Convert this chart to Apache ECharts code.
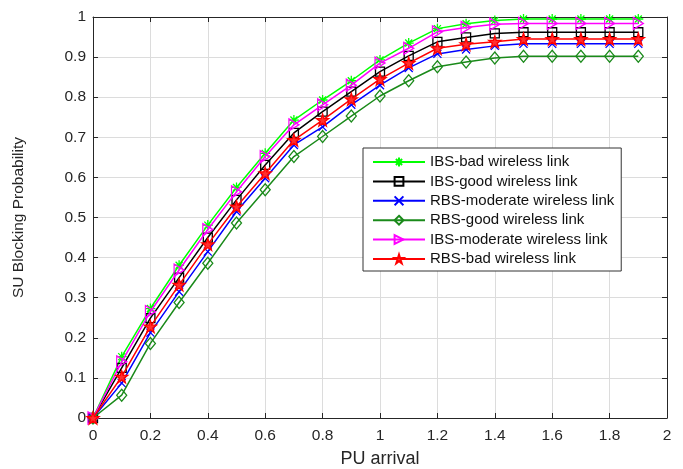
<!DOCTYPE html>
<html>
<head>
<meta charset="utf-8">
<script src="https://cdn.jsdelivr.net/npm/echarts@6/dist/echarts.min.js"></script>
<style>
  html, body { margin: 0; padding: 0; background: #fff; }
  #chart { width: 683px; height: 469px; }
</style>
</head>
<body>
<div id="chart"></div>
<script>
// PU arrival rate samples
const puArrival = [0, 0.1, 0.2, 0.3, 0.4, 0.5, 0.6, 0.7, 0.8, 0.9, 1.0, 1.1, 1.2, 1.3, 1.4, 1.5, 1.6, 1.7, 1.8, 1.9];

// SU blocking probability per scheme
const ibsBad      = [0, 0.153, 0.273, 0.381, 0.481, 0.575, 0.660, 0.743, 0.793, 0.841, 0.893, 0.935, 0.971, 0.983, 0.991, 0.995, 0.995, 0.995, 0.995, 0.995];
const ibsGood     = [0, 0.125, 0.249, 0.350, 0.450, 0.544, 0.631, 0.711, 0.764, 0.814, 0.864, 0.903, 0.938, 0.949, 0.959, 0.962, 0.962, 0.962, 0.962, 0.962];
const rbsModerate = [0, 0.087, 0.213, 0.315, 0.415, 0.515, 0.598, 0.681, 0.726, 0.781, 0.830, 0.873, 0.908, 0.919, 0.928, 0.933, 0.933, 0.933, 0.933, 0.933];
const rbsGood     = [0, 0.057, 0.186, 0.288, 0.386, 0.486, 0.569, 0.652, 0.702, 0.753, 0.803, 0.841, 0.876, 0.888, 0.898, 0.902, 0.902, 0.902, 0.902, 0.902];
const ibsModerate = [0, 0.140, 0.265, 0.369, 0.470, 0.564, 0.652, 0.731, 0.781, 0.830, 0.885, 0.922, 0.963, 0.974, 0.982, 0.984, 0.984, 0.984, 0.984, 0.984];
const rbsBad      = [0, 0.103, 0.228, 0.332, 0.433, 0.527, 0.610, 0.693, 0.743, 0.795, 0.845, 0.885, 0.922, 0.932, 0.938, 0.945, 0.945, 0.945, 0.945, 0.945];

const xTicks = [0, 0.2, 0.4, 0.6, 0.8, 1, 1.2, 1.4, 1.6, 1.8, 2];
const yTicks = [0, 0.1, 0.2, 0.3, 0.4, 0.5, 0.6, 0.7, 0.8, 0.9, 1];

const seriesNames = [
  'IBS-bad wireless link',
  'IBS-good wireless link',
  'RBS-moderate wireless link',
  'RBS-good wireless link',
  'IBS-moderate wireless link',
  'RBS-bad wireless link'
];
const seriesValues = [ibsBad, ibsGood, rbsModerate, rbsGood, ibsModerate, rbsBad];

// marker glyphs
const asterisk = 'path://M5,0 L5,10 M0,5 L10,5 M1.5,1.5 L8.5,8.5 M8.5,1.5 L1.5,8.5';
const cross = 'path://M0,0 L10,10 M10,0 L0,10';
const rightTri = 'path://M0,0 L10,5 L0,10 Z';
const star = 'path://M50,0 L61.8,35.4 L99,35.4 L69.1,57.3 L80.4,92.7 L50,70.8 L19.6,92.7 L30.9,57.3 L1,35.4 L38.2,35.4 Z';

const styles = [
  { color: '#00ff00', symbol: asterisk, size: 10, fill: 'transparent' },
  { color: '#000000', symbol: 'rect', size: 9, fill: 'transparent' },
  { color: '#0000ff', symbol: cross, size: 8, fill: 'transparent' },
  { color: '#1a8a1a', symbol: 'diamond', size: [10, 12], fill: 'transparent' },
  { color: '#ff00ff', symbol: rightTri, size: [10, 12], fill: 'transparent' },
  { color: '#ff0000', symbol: star, size: 12, fill: '#ff3030' }
];

const series = seriesNames.map((name, i) => ({
  name: name,
  type: 'line',
  xAxisIndex: 0,
  yAxisIndex: 0,
  data: puArrival.map((x, k) => [x, seriesValues[i][k]]),
  symbol: styles[i].symbol,
  symbolSize: styles[i].size,
  showAllSymbol: true,
  lineStyle: { color: styles[i].color, width: 1.5 },
  itemStyle: { color: styles[i].fill, borderColor: styles[i].color, borderWidth: 1.3 },
  emphasis: { disabled: true },
  animation: false,
  z: 3 + i
}));

const axisColor = '#262626';
const fontFam = '"Liberation Sans", Arial, sans-serif';

const chart = echarts.init(document.getElementById('chart'), null, { renderer: 'canvas' });
chart.setOption({
  backgroundColor: '#ffffff',
  animation: false,
  textStyle: { fontFamily: fontFam },
  grid: { left: 93, right: 16, top: 17, bottom: 51, containLabel: false, outerBoundsMode: 'none' },
  legend: {
    orient: 'vertical',
    left: 363,
    top: 148,
    backgroundColor: '#ffffff',
    borderColor: '#333333',
    borderWidth: 1,
    padding: [6.5, 7, 4.5, 9],
    itemWidth: 52,
    itemHeight: 11,
    itemGap: 4.4,
    textStyle: { fontSize: 15, lineHeight: 15, color: '#111', fontFamily: fontFam },
    data: seriesNames
  },
  xAxis: [{
    type: 'value',
    min: 0, max: 2, interval: 0.2,
    name: 'PU arrival',
    nameLocation: 'middle',
    nameGap: 32,
    nameTextStyle: { fontSize: 18, color: axisColor },
    axisLine: { show: true, lineStyle: { color: axisColor, width: 1 } },
    axisTick: { show: true, inside: true, length: 5, lineStyle: { color: axisColor } },
    axisLabel: { fontSize: 15.5, color: axisColor, margin: 10,
      formatter: v => { const t = xTicks.find(q => Math.abs(q - v) < 1e-6); return t === undefined ? '' : String(t); } },
    splitLine: { show: true, lineStyle: { color: '#dcdcdc', width: 1 } }
  }, {
    type: 'value', position: 'top',
    min: 0, max: 2, interval: 0.2,
    axisLine: { show: true, onZero: false, lineStyle: { color: axisColor, width: 1 } },
    axisTick: { show: true, inside: true, length: 5, lineStyle: { color: axisColor } },
    axisLabel: { show: false },
    splitLine: { show: false }
  }],
  yAxis: [{
    type: 'value',
    min: 0, max: 1, interval: 0.1,
    name: 'SU Blocking Probability',
    nameLocation: 'middle',
    nameGap: 66,
    nameTextStyle: { fontSize: 15.5, color: axisColor },
    axisLine: { show: true, lineStyle: { color: axisColor, width: 1 } },
    axisTick: { show: true, inside: true, length: 5, lineStyle: { color: axisColor } },
    axisLabel: { fontSize: 15.5, color: axisColor, margin: 7,
      formatter: v => { const t = yTicks.find(q => Math.abs(q - v) < 1e-6); return t === undefined ? '' : String(t); } },
    splitLine: { show: true, lineStyle: { color: '#dcdcdc', width: 1 } }
  }, {
    type: 'value', position: 'right',
    min: 0, max: 1, interval: 0.1,
    axisLine: { show: true, onZero: false, lineStyle: { color: axisColor, width: 1 } },
    axisTick: { show: true, inside: true, length: 5, lineStyle: { color: axisColor } },
    axisLabel: { show: false },
    splitLine: { show: false }
  }],
  series: series
});
</script>
</body>
</html>
